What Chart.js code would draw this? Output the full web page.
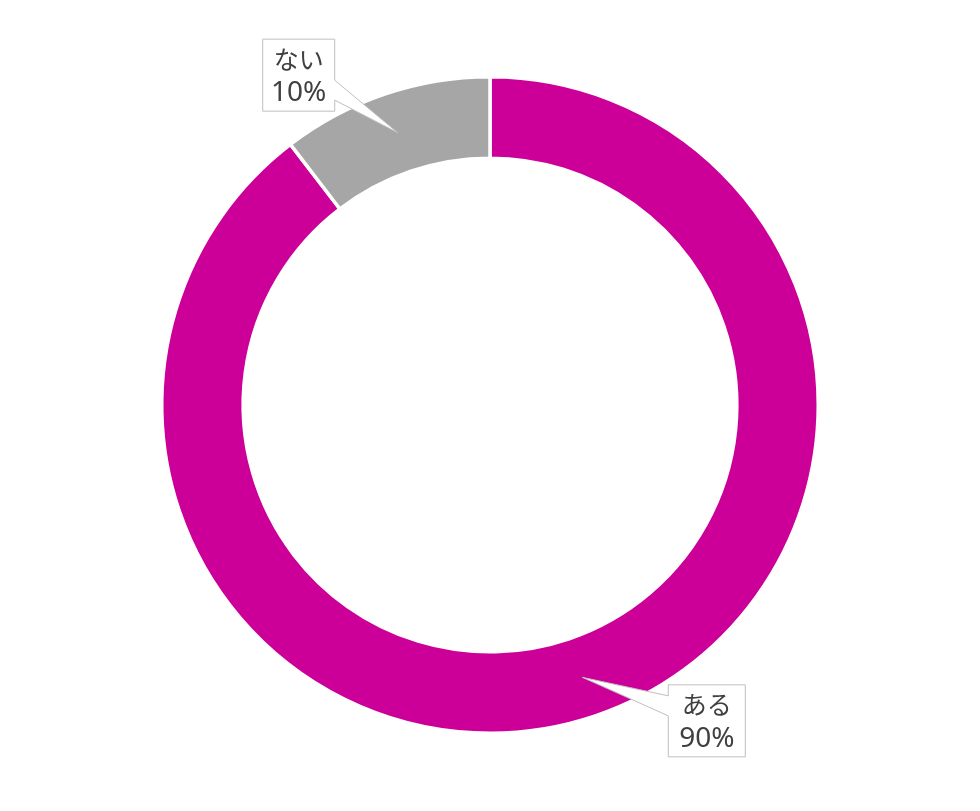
<!DOCTYPE html>
<html>
<head>
<meta charset="utf-8">
<script src="https://cdn.jsdelivr.net/npm/chart.js@4.4.1/dist/chart.umd.min.js"></script>
<style>
  html, body { margin: 0; padding: 0; background: #fff; }
  #wrap { width: 980px; height: 811px; }
</style>
</head>
<body>
<div id="wrap"><canvas id="answerChart"></canvas></div>
<script>
var labels = ['ある', 'ない'];
var values = [89.6, 10.4];
var colors = ['#CC0099', '#A6A6A6'];

// callout box: centre offset from the pointer tip, and box width
var boxOffsets = [[124.5, 43.5], [-99, -57.5]];
var boxWidths = [77, 72];

var calloutPlugin = {
    id: 'callouts',
    afterDatasetsDraw: function (chart) {
        var ctx = chart.ctx;
        var meta = chart.getDatasetMeta(0);
        var total = values.reduce(function (a, b) { return a + b; }, 0);
        meta.data.forEach(function (arc, i) {
            var p = arc.getProps(['x', 'y', 'startAngle', 'endAngle', 'innerRadius', 'outerRadius'], true);
            var mid = (p.startAngle + p.endAngle) / 2;
            var r = (p.innerRadius + p.outerRadius) / 2;
            var tx = p.x + Math.cos(mid) * r;
            var ty = p.y + Math.sin(mid) * r;
            var pct = Math.round(values[i] / total * 100) + '%';

            ctx.save();
            var w = boxWidths[i];
            var h = 72;
            var cx = tx + boxOffsets[i][0];
            var cy = ty + boxOffsets[i][1];
            var left = cx - w / 2, right = cx + w / 2, top = cy - h / 2, bottom = cy + h / 2;
            var s = ty > cy ? 1 : -1;
            var b1 = cy + s * 5, b2 = cy + s * 25;

            ctx.beginPath();
            ctx.moveTo(left, top);
            ctx.lineTo(right, top);
            if (tx > cx) {
                ctx.lineTo(right, Math.min(b1, b2));
                ctx.lineTo(tx, ty);
                ctx.lineTo(right, Math.max(b1, b2));
                ctx.lineTo(right, bottom);
                ctx.lineTo(left, bottom);
            } else {
                ctx.lineTo(right, bottom);
                ctx.lineTo(left, bottom);
                ctx.lineTo(left, Math.max(b1, b2));
                ctx.lineTo(tx, ty);
                ctx.lineTo(left, Math.min(b1, b2));
            }
            ctx.closePath();
            ctx.fillStyle = '#ffffff';
            ctx.fill();
            ctx.strokeStyle = '#BFBFBF';
            ctx.lineWidth = 1;
            ctx.stroke();

            ctx.fillStyle = '#404040';
            ctx.textAlign = 'center';
            ctx.textBaseline = 'middle';
            ctx.font = '25px "Noto Sans CJK JP", sans-serif';
            ctx.fillText(labels[i], cx, cy - 16);
            ctx.font = '28px "Noto Sans", "Noto Sans CJK JP", sans-serif';
            ctx.fillText(pct, cx, cy + 18);
            ctx.restore();
        });
    }
};

var ctx = document.getElementById('answerChart').getContext('2d');
var answerChart = new Chart(ctx, {
    type: 'doughnut',
    data: {
        labels: labels,
        datasets: [{
            data: values,
            backgroundColor: colors,
            borderColor: '#ffffff',
            borderWidth: 3.5
        }]
    },
    options: {
        responsive: true,
        maintainAspectRatio: false,
        animation: false,
        cutout: '75.2%',
        layout: { padding: { top: 75, bottom: 76 } },
        plugins: {
            legend: { display: false },
            tooltip: { enabled: false }
        }
    },
    plugins: [calloutPlugin]
});
</script>
</body>
</html>
